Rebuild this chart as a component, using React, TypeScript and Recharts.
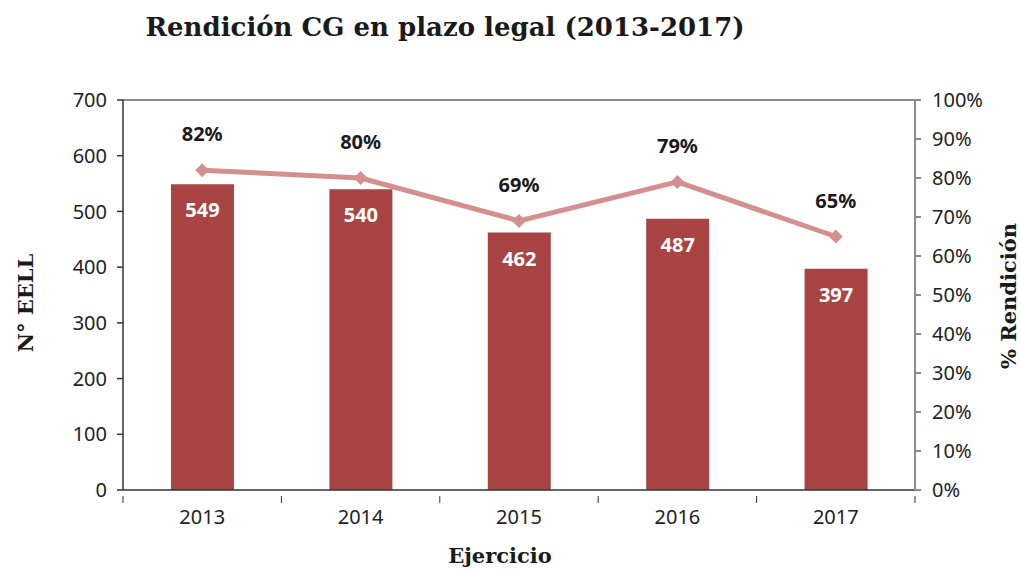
import { Bar, ComposedChart, LabelList, Line, ReferenceLine, XAxis, YAxis } from "recharts";

const years = ["2013", "2014", "2015", "2016", "2017"];
const eell = [549, 540, 462, 487, 397];
const rendicion = [82, 80, 69, 79, 65];
const leftTicks = [0, 100, 200, 300, 400, 500, 600, 700];
const rightTicks = [0, 10, 20, 30, 40, 50, 60, 70, 80, 90, 100];

const data = years.map((year, i) => ({ year, eell: eell[i], pct: rendicion[i] }));

const tickFont = { fontFamily: "'Noto Sans', sans-serif", fontSize: 20, fill: "#222" };
const halfBand = 792 / 10;

const XTick = (props: any) => {
  const { x, y, payload, index } = props;
  const axisY = y - 14;
  return (
    <g>
      <line x1={x - halfBand} x2={x - halfBand} y1={axisY} y2={axisY + 7} stroke="#333" />
      {index === years.length - 1 && (
        <line x1={x + halfBand} x2={x + halfBand} y1={axisY} y2={axisY + 7} stroke="#333" />
      )}
      <text x={x} y={y} dy={14} textAnchor="middle" {...tickFont}>
        {payload.value}
      </text>
    </g>
  );
};

const Diamond = (props: any) => {
  const { cx, cy } = props;
  if (cx == null || cy == null) return null;
  const s = 7;
  return (
    <polygon
      points={`${cx},${cy - s} ${cx + s},${cy} ${cx},${cy + s} ${cx - s},${cy}`}
      fill="#d4908f"
    />
  );
};

const axisTitle = {
  position: "absolute" as const,
  fontFamily: "'DejaVu Serif', serif",
  fontWeight: "bold" as const,
  fontSize: 21,
  color: "#1a1a1a",
  whiteSpace: "nowrap" as const,
};

export default function App() {
  return (
    <div style={{ position: "absolute", left: 0, top: 0, width: 1020, height: 571, background: "#fff" }}>
      <div
        style={{
          position: "absolute",
          left: 0,
          width: 890,
          top: 12,
          textAlign: "center",
          fontFamily: "'DejaVu Serif', serif",
          fontWeight: "bold",
          fontSize: 26,
          color: "#1a1a1a",
        }}
      >
        Rendición CG en plazo legal (2013-2017)
      </div>
      <ComposedChart
        width={1020}
        height={571}
        data={data}
        margin={{ top: 100, right: 0, bottom: 0, left: 0 }}
        barCategoryGap={0}
      >
        <XAxis
          dataKey="year"
          height={81}
          stroke="#333"
          strokeWidth={1.5}
          tickLine={false}
          tick={<XTick />}
          tickMargin={14}
        />
        <YAxis
          yAxisId="left"
          width={123}
          domain={[0, 700]}
          ticks={leftTicks}
          stroke="#333"
          strokeWidth={1.5}
          tickSize={6}
          tickMargin={10}
          tick={tickFont}
        />
        <YAxis
          yAxisId="right"
          orientation="right"
          width={105}
          domain={[0, 100]}
          ticks={rightTicks}
          tickFormatter={(v: number) => `${v}%`}
          stroke="#8a8a90"
          strokeWidth={2}
          tickSize={6}
          tickMargin={11}
          tick={tickFont}
        />
        <ReferenceLine yAxisId="left" y={700} stroke="#8a8a90" strokeWidth={2} />
        <Bar yAxisId="left" dataKey="eell" fill="#a84444" barSize={63} isAnimationActive={false}>
          <LabelList
            dataKey="eell"
            position="insideTop"
            offset={19}
            fill="#fff"
            style={{ fontFamily: "'Noto Sans', sans-serif", fontWeight: "bold", fontSize: 20 }}
          />
        </Bar>
        <Line
          yAxisId="right"
          dataKey="pct"
          stroke="#d4908f"
          strokeWidth={5}
          dot={<Diamond />}
          activeDot={false}
          isAnimationActive={false}
        >
          <LabelList
            dataKey="pct"
            position="top"
            offset={29}
            formatter={(v: any) => `${v}%`}
            fill="#1a1a1a"
            style={{ fontFamily: "'Noto Sans', sans-serif", fontWeight: "bold", fontSize: 20 }}
          />
        </Line>
      </ComposedChart>
      <div style={{ ...axisTitle, left: 25, top: 303, transform: "translate(-50%, -50%) rotate(-90deg)" }}>
        N° EELL
      </div>
      <div style={{ ...axisTitle, left: 1008, top: 296, transform: "translate(-50%, -50%) rotate(-90deg)" }}>
        % Rendición
      </div>
      <div style={{ ...axisTitle, left: 0, width: 1000, top: 543, textAlign: "center" }}>Ejercicio</div>
    </div>
  );
}
